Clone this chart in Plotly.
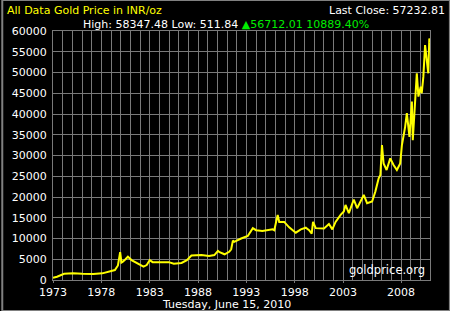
import plotly.graph_objects as go

# decimal year, price in INR/oz
years = [1973.0, 1973.4, 1974.1, 1975.0, 1975.9, 1977.0, 1977.9, 1978.6, 1979.15, 1979.45,
         1979.67, 1979.8, 1979.94, 1980.2, 1980.44, 1980.8, 1981.13, 1981.6, 1981.99, 1982.31,
         1982.61, 1982.9, 1983.79, 1984.5, 1985.0, 1985.77, 1986.3, 1986.75, 1987.74, 1988.5,
         1989.03, 1989.39, 1989.55, 1990.04, 1990.5, 1990.70, 1990.87, 1991.0, 1991.69, 1992.35,
         1992.85, 1993.17, 1993.8, 1994.33, 1994.82, 1994.98, 1995.32, 1995.47, 1995.97, 1996.46,
         1997.12, 1997.62, 1998.11, 1998.44, 1998.70, 1998.83, 1999.10, 1999.92, 2000.41, 2000.75,
         2001.07, 2001.57, 2001.89, 2002.06, 2002.39, 2002.88, 2003.21, 2003.87, 2004.20, 2004.70,
         2005.02, 2005.35, 2005.52, 2005.68, 2005.84, 2006.14, 2006.50, 2006.83, 2007.16, 2007.49,
         2007.66, 2007.98, 2008.15, 2008.41, 2008.65, 2008.74, 2008.97, 2009.14, 2009.30, 2009.53,
         2009.63, 2009.79, 2009.96, 2010.13, 2010.28, 2010.38, 2010.45]
prices = [550, 800, 1500, 1600, 1500, 1450, 1600, 2000, 2400, 3500,
          6700, 4200, 4400, 5000, 5600, 4800, 4300, 3700, 3200, 3600,
          4800, 4300, 4200, 4300, 3900, 4100, 4800, 5900, 6000, 5800,
          6000, 7000, 6700, 6200, 6800, 7400, 9500, 9200, 10000, 10600,
          12500, 12000, 11800, 12000, 12200, 12000, 15700, 14000, 14000, 12700,
          11400, 12200, 12600, 12000, 11200, 14000, 12500, 12400, 13500, 12200,
          14000, 15700, 16500, 18100, 16100, 19400, 17300, 20500, 18500, 18900,
          21300, 24500, 25300, 32500, 28100, 26500, 29300, 27700, 26500, 28100,
          32500, 36900, 40200, 34500, 43000, 33700, 44200, 49800, 44200, 46600,
          45000, 49000, 56600, 52200, 49800, 58200, 57200]

tick_labels = ["1973", "1978", "1983", "1988", "1993", "1998", "2003", "2008"]
tick_grid_index = [0, 5, 10, 15, 20, 25, 30, 36]
y_ticks = list(range(0, 60001, 5000))

x_start, x_end = 1973.0, 2010.45
n_div = 39
step = (x_end - x_start) / n_div
tickvals = [x_start + k * step for k in tick_grid_index]

FONT = "DejaVu Sans"
GRID = "#7a7a7a"

fig = go.Figure()
fig.add_trace(go.Scatter(x=years, y=prices, mode="lines",
                         line=dict(color="#ffff00", width=2), hoverinfo="skip"))

fig.update_layout(
    width=450, height=311,
    margin=dict(l=51, r=20, t=31, b=31),
    paper_bgcolor="black", plot_bgcolor="black",
    showlegend=False,
    font=dict(family=FONT, size=11, color="white"),
    xaxis=dict(range=[x_start, x_end], tickvals=tickvals, ticktext=tick_labels,
               showgrid=True, gridcolor=GRID, gridwidth=1,
               minor=dict(tick0=x_start, dtick=step, showgrid=True, gridcolor=GRID, gridwidth=1),
               ticks="outside", ticklen=2, tickcolor=GRID,
               showline=True, linecolor=GRID, mirror=True, zeroline=False,
               tickfont=dict(family=FONT, size=11, color="white")),
    yaxis=dict(range=[0, 60000], tickvals=y_ticks, ticktext=[str(v) for v in y_ticks],
               showgrid=True, gridcolor=GRID, gridwidth=1,
               ticks="outside", ticklen=3, tickcolor="black",
               showline=True, linecolor=GRID, mirror=True, zeroline=False,
               tickfont=dict(family=FONT, size=11, color="white")),
    shapes=[dict(type="rect", xref="paper", yref="paper", x0=-51/379, x1=1+20/379,
                 y0=-31/249, y1=1+31/249, line=dict(color="#808080", width=2))],
    annotations=[
        dict(text="All Data Gold Price in INR/oz", xref="paper", yref="paper",
             x=-48/379, y=1+29/249, xanchor="left", yanchor="top", showarrow=False,
             font=dict(family=FONT, size=11, color="#ffff00")),
        dict(text="Last Close: 57232.81", xref="paper", yref="paper",
             x=1+17/379, y=1+29/249, xanchor="right", yanchor="top", showarrow=False,
             font=dict(family=FONT, size=11, color="white")),
        dict(text="High: 58347.48 Low: 511.84 <span style='color:#00ee00'>▲56712.01 10889.40%</span>",
             xref="paper", yref="paper", x=174/379, y=1+15/249, xanchor="center", yanchor="top",
             showarrow=False, font=dict(family=FONT, size=11, color="white")),
        dict(text="goldprice.org", xref="paper", yref="paper", x=1-3/379, y=1/249,
             xanchor="right", yanchor="bottom", showarrow=False,
             font=dict(family=FONT, size=11.5, color="white")),
        dict(text="Tuesday, June 15, 2010", xref="paper", yref="paper", x=174/379, y=-16/249,
             xanchor="center", yanchor="top", showarrow=False,
             font=dict(family=FONT, size=11, color="white")),
    ],
)

fig.write_html("out.html")
